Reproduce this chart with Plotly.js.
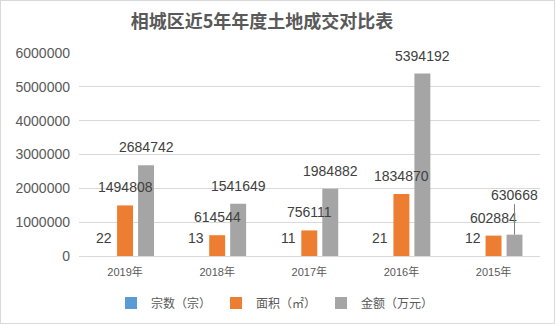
<!DOCTYPE html>
<html><head><meta charset="utf-8">
<script src="https://cdn.plot.ly/plotly-3.0.1.min.js"></script>
<style>
html,body{margin:0;padding:0;background:#fff;}
#chart{position:absolute;left:0;top:0;width:553px;height:322px;border:1px solid #d9d9d9;}
</style></head>
<body><div id="chart"></div>
<script>
const categories = ['2019年','2018年','2017年','2016年','2015年'];
const countValues = [22, 13, 11, 21, 12];
const areaValues = [1494808, 614544, 756111, 1834870, 602884];
const amountValues = [2684742, 1541649, 1984882, 5394192, 630668];
const seriesNames = ['宗数（宗）','面积（㎡）','金额（万元）'];
const yTicks = [0, 1000000, 2000000, 3000000, 4000000, 5000000, 6000000];

const colors = ['#5B9BD5','#ED7D31','#A5A5A5'];
const numFont = 'Liberation Sans, Arial, Noto Sans CJK SC, sans-serif';
const bargap = 0.317, bargroupgap = 0.24;
const series = [countValues, areaValues, amountValues];

const traces = series.map((vals, i) => ({
  type: 'bar', name: seriesNames[i], x: categories, y: vals,
  marker: {color: colors[i]}, hoverinfo: 'none'
}));

const slot = (1 - bargap) / series.length;
const annotations = [];
series.forEach((vals, i) => {
  const off = -(1 - bargap) / 2 + slot * (i + 0.5);
  vals.forEach((v, j) => {
    const lifted = (i === 2 && j === 4);
    annotations.push({
      x: j + off, y: v, xref: 'x', yref: 'y',
      text: String(v),
      font: {family: numFont, size: 14, color: '#404040'},
      showarrow: lifted, arrowhead: 0, arrowwidth: 1, arrowcolor: '#7f7f7f',
      ax: 0, ay: lifted ? -40 : 0, standoff: 0,
      yshift: lifted ? 0 : 18
    });
  });
});

const layout = {
  width: 553, height: 322,
  margin: {l: 78, r: 14, t: 52, b: 67},
  paper_bgcolor: '#fff', plot_bgcolor: '#fff',
  barmode: 'group', bargap: bargap, bargroupgap: bargroupgap,
  title: {
    text: '相城区近5年年度土地成交对比表',
    font: {family: 'Noto Sans CJK SC, sans-serif', size: 18, color: '#595959', weight: 'bold'},
    x: 261/553, xref: 'container', xanchor: 'center',
    y: 1 - 21/322, yref: 'container', yanchor: 'middle'
  },
  xaxis: {
    type: 'category', showgrid: false, showline: true, linecolor: '#d9d9d9', linewidth: 1,
    ticks: '', tickfont: {family: numFont, size: 11, color: '#595959'},
    ticklabelstandoff: 6
  },
  yaxis: {
    range: [0, 6000000], tickvals: yTicks, ticktext: yTicks.map(String),
    showgrid: true, gridcolor: '#d9d9d9', gridwidth: 1, zeroline: false, showline: false,
    tickfont: {family: numFont, size: 14, color: '#595959'},
    ticklabelstandoff: 8
  },
  legend: {
    orientation: 'h', xref: 'container', yref: 'container',
    x: 274/553, xanchor: 'center', y: 1 - 302/322, yanchor: 'middle',
    font: {family: 'Noto Sans CJK SC, sans-serif', size: 12, color: '#595959'},
    itemwidth: 30
  },
  annotations: annotations,
  showlegend: true
};

Plotly.newPlot('chart', traces, layout, {displayModeBar: false, staticPlot: true});
</script></body></html>
